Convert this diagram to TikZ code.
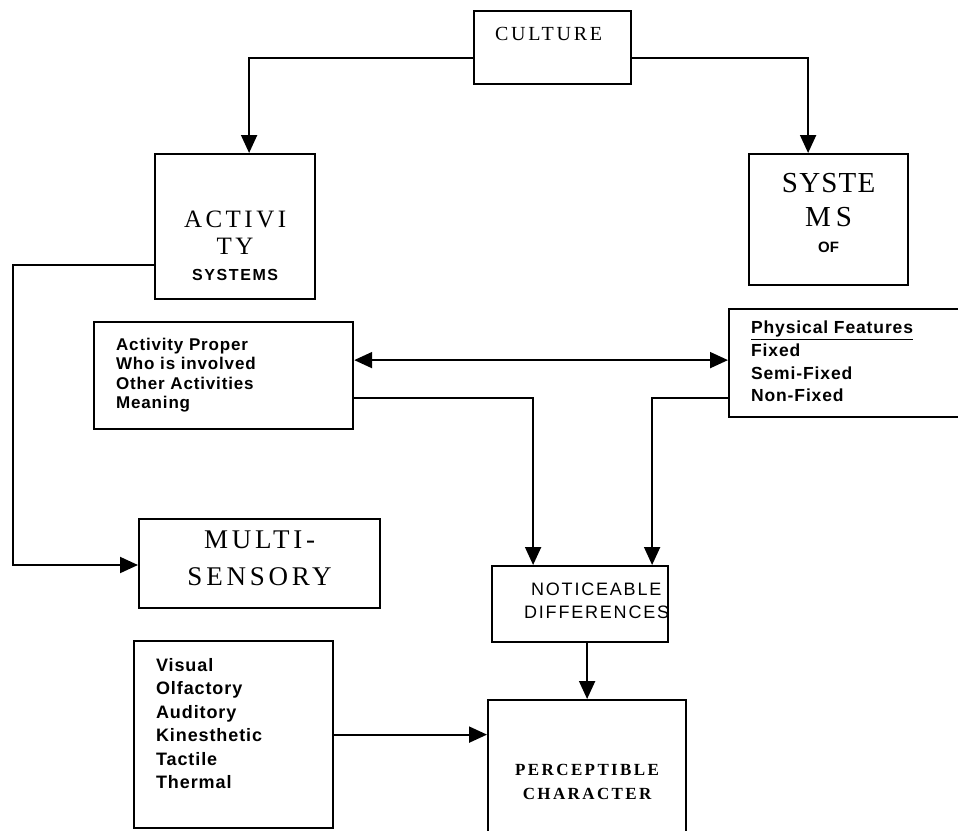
\documentclass[tikz,border=0pt]{standalone}
\usepackage{fontspec}
\setmainfont{Liberation Serif}
\setsansfont{Liberation Sans}
\newfontfamily\capsfont[LetterSpace=14]{Liberation Serif}
\newfontfamily\sysfont[LetterSpace=4]{Liberation Serif}
\newfontfamily\listfont[LetterSpace=5]{Liberation Sans}
\newfontfamily\headfont[LetterSpace=10]{Liberation Sans}
\usetikzlibrary{arrows.meta}
\usetikzlibrary{calc}

\tikzset{
	>={Triangle[length=18pt,width=16pt]},
	box/.style={draw, line width=2.2pt, inner sep=0pt, anchor=north west},
	conn/.style={line width=2pt},
}

\begin{document}
\begin{tikzpicture}[x=1pt, y=-1pt]
\useasboundingbox (0,0) rectangle (958,830);
\clip (0,0) rectangle (958,830);

% boxes
\node[box] (culture) at (473,10) {\parbox[t][73pt][t]{157pt}{\centering\vspace*{16pt}\capsfont\fontsize{20}{22}\selectfont CULTURE\hspace*{8pt}}};
\node[box] (activity) at (154,153) {\parbox[t][145pt][t]{160pt}{\centering\vspace*{57pt}\capsfont\fontsize{25}{26.5}\selectfont ACTIVI\\TY\\{\headfont\bfseries\fontsize{16}{26.5}\selectfont SYSTEMS}}};
\node[box] (systems) at (748,153) {\parbox[t][131pt][t]{159pt}{\centering\vspace*{19pt}\sysfont\fontsize{29}{34}\selectfont SYSTE\\M\,S\\[-8pt]{\sffamily\bfseries\fontsize{15}{26}\selectfont OF}}};
\node[box] (actlist) at (93,321) {\parbox[t][107pt][t]{259pt}{\raggedright\leftskip=22pt\vspace*{16pt}\listfont\bfseries\fontsize{17}{19.3}\selectfont Activity Proper\\Who is involved\\Other Activities\\Meaning}};
\node[box] (physlist) at (728,308) {\parbox[t][108pt][t]{260pt}{\raggedright\leftskip=22pt\vspace*{12pt}\listfont\bfseries\fontsize{17.5}{22.7}\selectfont \underline{Physical Features}\\Fixed\\Semi-Fixed\\Non-Fixed}};
\node[box] (multi) at (138,518) {\parbox[t][89pt][t]{241pt}{\centering\vspace*{12pt}\capsfont\fontsize{27}{37}\selectfont MULTI-\\SENSORY}};
\node[box] (notice) at (491,565) {\parbox[t][76pt][t]{176pt}{\raggedright\vspace*{17pt}\headfont\fontsize{18}{23}\selectfont\hspace*{39pt}NOTICEABLE\\\hspace*{32pt}DIFFERENCES}};
\node[box] (senslist) at (133,640) {\parbox[t][187pt][t]{199pt}{\raggedright\leftskip=22pt\vspace*{17pt}\listfont\bfseries\fontsize{18}{23.5}\selectfont Visual\\Olfactory\\Auditory\\Kinesthetic\\Tactile\\Thermal}};
\node[box] (percept) at (487,699) {\parbox[t][150pt][t]{198pt}{\centering\vspace*{64pt}\capsfont\bfseries\fontsize{17}{24}\selectfont PERCEPTIBLE\\CHARACTER}};

\coordinate (railcorner) at (13,565);

% connectors
\draw[conn,->] ([yshift=-10.5pt]culture.west) -| ([xshift=14pt]activity.north);
\draw[conn,->] ([yshift=-10.5pt]culture.east) -| ([xshift=-20.5pt]systems.north);
\draw[conn,->] ([yshift=-38.5pt]activity.west) -| (railcorner) -- (railcorner -| multi.west);
\draw[conn,<->] ([yshift=15.5pt]actlist.east) -- ([yshift=15.5pt]actlist.east -| physlist.west);
\draw[conn,->] ([yshift=-22.5pt]actlist.east) -| ([xshift=-47pt]notice.north);
\draw[conn,->] ([yshift=-35pt]physlist.west) -| ([xshift=72pt]notice.north);
\draw[conn,->] (percept.north |- notice.south) -- (percept.north);
\draw[conn,->] (senslist.east) -- (senslist.east -| percept.west);
\end{tikzpicture}
\end{document}
